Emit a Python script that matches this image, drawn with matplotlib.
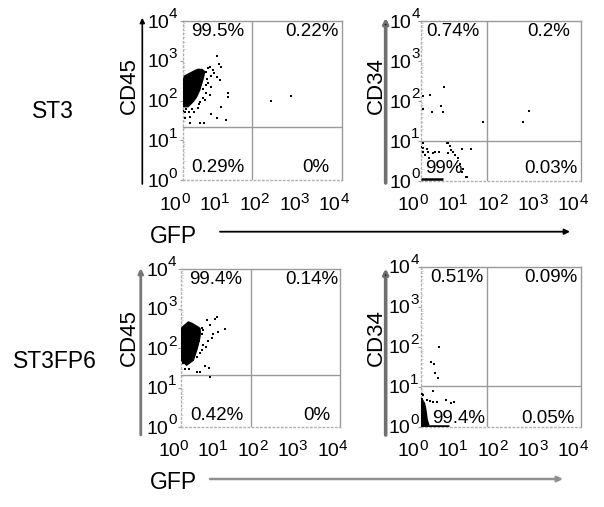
import matplotlib
matplotlib.use("Agg")
import matplotlib.pyplot as plt
from matplotlib.patches import FancyArrowPatch
from matplotlib.ticker import LogLocator, NullFormatter

plt.rcParams['font.family'] = ['Liberation Sans', 'DejaVu Sans']

# ---- data ----
decades = [1, 10, 100, 1000, 10000]
exponents = ["0", "1", "2", "3", "4"]
row_names = ["ST3", "ST3FP6"]
x_name = "GFP"
y_names = ["CD45", "CD34"]

# ST3, CD45 vs GFP
st3_cd45_blob_x = [1.0, 1.0, 1.12, 1.5, 2.0, 2.43, 3.1, 3.57, 3.4, 3.2, 2.9, 2.68, 2.2, 1.82, 1.36]
st3_cd45_blob_y = [70, 297, 413, 483, 560, 609, 600, 531, 420, 330, 240, 184, 120, 93, 70]
st3_cd45_x = [7.2, 8.0, 9.0, 4.8, 5.8, 5.25, 7.4, 8.5, 4.3, 5.25, 13.8, 13.8, 3.9, 4.8,
              3.24, 2.68, 3.57, 9.0, 1.12, 1.4, 1.93, 2.43, 5.06, 7.4, 12.5, 1.5, 1.16,
              1.5, 2.68, 3.44, 4.3, 3.9, 6.1, 1.02, 4.1, 3.8, 3.3, 2.5, 1.7, 1.2,
              166, 521]
st3_cd45_y = [1318, 828, 708, 708, 585, 413, 398, 328, 271, 222, 157, 125, 152, 137,
              113, 93, 103, 67, 52, 52, 52, 63, 45.7, 35.6, 32.3, 37.8, 35.6,
              26.7, 26.7, 26.7, 646, 531, 483, 55, 350, 250, 200, 80, 62, 60,
              99, 130]
st3_cd45_gate = (56, 22)
st3_cd45_pct = ["99.5%", "0.22%", "0.29%", "0%"]

# ST3, CD34 vs GFP
st3_cd34_x = [3.9, 1.16, 1.7, 3.2, 1.16, 1.88, 3.55, 36.7, 505, 355,
              1.16, 1.12, 1.41, 1.55, 2.0, 2.28, 2.92, 4.9, 5.4, 5.6, 6.5, 4.9, 7.2,
              10.6, 17.8, 1.28, 1.64, 8.7, 9.6, 11.2, 13.6, 10.6, 4.5, 7.9, 14.0, 1.0, 1.16]
st3_cd34_y = [228, 133, 144, 75, 62, 53, 53, 30, 57, 30,
              8.7, 6.6, 6.2, 5.4, 5.1, 5.4, 5.4, 9.1, 7.5, 6.0, 5.4, 4.9, 4.5,
              6.2, 6.2, 4.5, 3.8, 3.7, 2.66, 1.96, 1.24, 1.7, 8.7, 2.28, 1.28, 7.2, 5.4]
st3_cd34_pile_x = [1.0, 3.6]
st3_cd34_pile_y = [1.15, 1.15]
st3_cd34_gate = (46, 10)
st3_cd34_pct = ["0.74%", "0.2%", "99%", "0.03%"]

# ST3FP6, CD45 vs GFP
fp6_cd45_blob_x = [1.0, 1.0, 1.1, 1.53, 1.9, 2.25, 2.7, 3.0, 3.05, 3.0, 2.7, 2.48, 2.04, 1.39]
fp6_cd45_blob_y = [49, 300, 341, 456, 420, 377, 340, 311, 250, 191, 120, 88, 49, 36.8]
fp6_cd45_x = [7.2, 8.2, 4.4, 12.8, 5.4, 3.6, 8.7, 6.5, 5.9, 4.9, 3.65, 4.3, 3.3, 3.0,
              2.48, 4.0, 5.2, 5.4, 1.62, 2.48, 3.0, 1.14, 1.26, 1.1, 1.04, 3.4, 3.3, 2.8]
fp6_cd45_y = [556, 610, 504, 311, 377, 281, 255, 232, 174, 151, 118, 107, 88, 73,
              60, 34.7, 32, 18.6, 30, 25, 25, 40.6, 30, 129, 73, 330, 220, 150]
fp6_cd45_gate = (57, 21)
fp6_cd45_pct = ["99.4%", "0.14%", "0.42%", "0%"]

# ST3FP6, CD34 vs GFP
fp6_cd34_blob_x = [1.0, 1.0, 1.12, 1.25, 1.35, 1.45, 1.6]
fp6_cd34_blob_y = [1.0, 4.3, 4.6, 3.8, 2.6, 1.5, 1.1]
fp6_cd34_x = [2.92, 1.81, 2.19, 2.28, 2.75, 2.07, 1.16, 1.41, 1.7, 2.07, 2.5, 4.3,
              5.6, 6.8, 1.07, 1.05]
fp6_cd34_y = [97, 42, 38, 22.4, 16.8, 7.9, 6.2, 4.65, 4.4, 4.2, 4.2, 4.65,
              4.0, 4.2, 5.0, 6.5]
fp6_cd34_pile_x = [1.0, 5.0]
fp6_cd34_pile_y = [1.06, 1.06]
fp6_cd34_gate = (46, 10.5)
fp6_cd34_pct = ["0.51%", "0.09%", "99.4%", "0.05%"]

fig = plt.figure(figsize=(6.04, 5.07), dpi=100)
W, H = 604.0, 507.0

GRID = '#9a9a9a'


def panel(box, pts, gate, pct, blob=None, pile=None, txt_pos=None, ylab_gap=14.5,
          axis_x=-0.25, axis_y=(-0.025, 1.02), axis_color='black', axis_lw=1.2):
    left, top, w, h = box
    ax = fig.add_axes([left / W, 1 - (top + h) / H, w / W, h / H])
    ax.set_xscale('log')
    ax.set_yscale('log')
    ax.set_xlim(decades[0], decades[-1])
    ax.set_ylim(decades[0], decades[-1])

    if blob is not None:
        ax.fill(blob[0], blob[1], color='black', lw=1.0, zorder=3)
    ax.scatter(pts[0], pts[1], s=2.5, marker='s', c='black', linewidths=0, zorder=4)
    if pile is not None:
        ax.plot(pile[0], pile[1], color='black', lw=1.8, solid_capstyle='butt', zorder=4)

    ax.axvline(gate[0], color=GRID, lw=1.0, zorder=2)
    ax.axhline(gate[1], color=GRID, lw=1.0, zorder=2)

    for s in ('top', 'right'):
        ax.spines[s].set_color(GRID)
        ax.spines[s].set_linewidth(1.0)
    for s in ('left', 'bottom'):
        ax.spines[s].set_color('#b0b0b0')
        ax.spines[s].set_linewidth(1.0)
        ax.spines[s].set_linestyle((0, (1, 2)))

    ax.set_xticks(decades)
    ax.set_yticks(decades)
    ax.xaxis.set_minor_locator(LogLocator(base=10, subs=range(2, 10)))
    ax.yaxis.set_minor_locator(LogLocator(base=10, subs=range(2, 10)))
    ax.xaxis.set_minor_formatter(NullFormatter())
    ax.yaxis.set_minor_formatter(NullFormatter())
    ax.tick_params(axis='x', which='major', length=0, labelbottom=False)
    ax.tick_params(axis='y', which='major', length=2.5, width=0.8, color=GRID,
                   labelleft=False)
    ax.tick_params(which='minor', direction='in', length=1.5, width=0.5, color='#c0c0c0')

    # "10" with a large superscript, placed at each decade tick
    xt = ax.get_xaxis_transform()
    yt = ax.get_yaxis_transform()
    for d, e in zip(decades, exponents):
        ax.annotate('10', xy=(d, 0), xycoords=xt, xytext=(-1, -29.5),
                    textcoords='offset pixels', ha='right', va='baseline',
                    fontsize=14, annotation_clip=False)
        ax.annotate(e, xy=(d, 0), xycoords=xt, xytext=(-1.5, -23),
                    textcoords='offset pixels', ha='left', va='baseline',
                    fontsize=11, annotation_clip=False)
        ax.annotate('10', xy=(0, d), xycoords=yt, xytext=(-ylab_gap, -6.7),
                    textcoords='offset pixels', ha='right', va='baseline',
                    fontsize=14, annotation_clip=False)
        ax.annotate(e, xy=(0, d), xycoords=yt, xytext=(-ylab_gap - 0.5, 2.5),
                    textcoords='offset pixels', ha='left', va='baseline',
                    fontsize=11, annotation_clip=False)

    (x0, y0), (x1, y1), (x2, y2), (x3, y3) = txt_pos
    ax.text(x0, y0, pct[0], transform=ax.transAxes, ha='left', va='top', fontsize=13.5)
    ax.text(x1, y1, pct[1], transform=ax.transAxes, ha='right', va='top', fontsize=13.5)
    ax.text(x2, y2, pct[2], transform=ax.transAxes, ha='left', va='baseline', fontsize=13.5)
    ax.text(x3, y3, pct[3], transform=ax.transAxes, ha='right', va='baseline', fontsize=13.5)

    arr = FancyArrowPatch((axis_x, axis_y[0]), (axis_x, axis_y[1]),
                          transform=ax.transAxes, arrowstyle='-|>', mutation_scale=7,
                          lw=axis_lw, ec=axis_color, fc='black', clip_on=False,
                          shrinkA=0, shrinkB=0)
    ax.add_artist(arr)
    return ax


panel((182.7, 21, 159, 159), (st3_cd45_x, st3_cd45_y), st3_cd45_gate, st3_cd45_pct,
      blob=(st3_cd45_blob_x, st3_cd45_blob_y), ylab_gap=13.5,
      txt_pos=((0.05, 0.985), (0.98, 0.985), (0.055, 0.052), (0.92, 0.052)),
      axis_x=-0.254, axis_y=(-0.025, 1.02), axis_color='black', axis_lw=1.2)
panel((420.7, 21, 160, 160), (st3_cd34_x, st3_cd34_y), st3_cd34_gate, st3_cd34_pct,
      pile=(st3_cd34_pile_x, st3_cd34_pile_y), ylab_gap=9,
      txt_pos=((0.037, 0.985), (0.935, 0.985), (0.027, 0.05), (0.977, 0.05)),
      axis_x=-0.219, axis_y=(-0.012, 1.02), axis_color='#707070', axis_lw=2.6)
panel((181, 269, 159, 158), (fp6_cd45_x, fp6_cd45_y), fp6_cd45_gate, fp6_cd45_pct,
      blob=(fp6_cd45_blob_x, fp6_cd45_blob_y), ylab_gap=12.5,
      txt_pos=((0.05, 0.985), (0.987, 0.985), (0.06, 0.044), (0.937, 0.044)),
      axis_x=-0.253, axis_y=(-0.05, 1.006), axis_color='#787878', axis_lw=2.0)
panel((420.7, 266.7, 160, 160), (fp6_cd34_x, fp6_cd34_y), fp6_cd34_gate, fp6_cd34_pct,
      blob=(fp6_cd34_blob_x, fp6_cd34_blob_y), pile=(fp6_cd34_pile_x, fp6_cd34_pile_y),
      ylab_gap=10,
      txt_pos=((0.058, 0.985), (0.983, 0.985), (0.069, 0.025), (0.965, 0.025)),
      axis_x=-0.219, axis_y=(-0.052, 0.99), axis_color='#707070', axis_lw=2.6)

# row labels and axis names
fig.text(32 / W, 1 - 111 / H, row_names[0], ha='left', va='center', fontsize=16.5)
fig.text(12.7 / W, 1 - 361.5 / H, row_names[1], ha='left', va='center', fontsize=16.5)
for cx, name in ((129.5, y_names[0]), (376.5, y_names[1])):
    fig.text(cx / W, 1 - 86 / H, name, rotation=90, ha='center', va='center', fontsize=16)
    fig.text(cx / W, 1 - 337.5 / H, name, rotation=90, ha='center', va='center', fontsize=16)

fig.text(150 / W, 1 - 243 / H, x_name, ha='left', va='baseline', fontsize=16.5)
fig.text(150 / W, 1 - 489 / H, x_name, ha='left', va='baseline', fontsize=16.5)

fig.add_artist(FancyArrowPatch((220 / W, 1 - 231.7 / H), (570 / W, 1 - 231.7 / H),
                               transform=fig.transFigure, arrowstyle='-|>',
                               mutation_scale=8, lw=1.3, ec='black', fc='black',
                               shrinkA=0, shrinkB=0))
fig.add_artist(FancyArrowPatch((210 / W, 1 - 479 / H), (563 / W, 1 - 479 / H),
                               transform=fig.transFigure, arrowstyle='-|>',
                               mutation_scale=8, lw=1.8, ec='#909090', fc='black',
                               shrinkA=0, shrinkB=0))

fig.savefig("out.png", dpi=100)
